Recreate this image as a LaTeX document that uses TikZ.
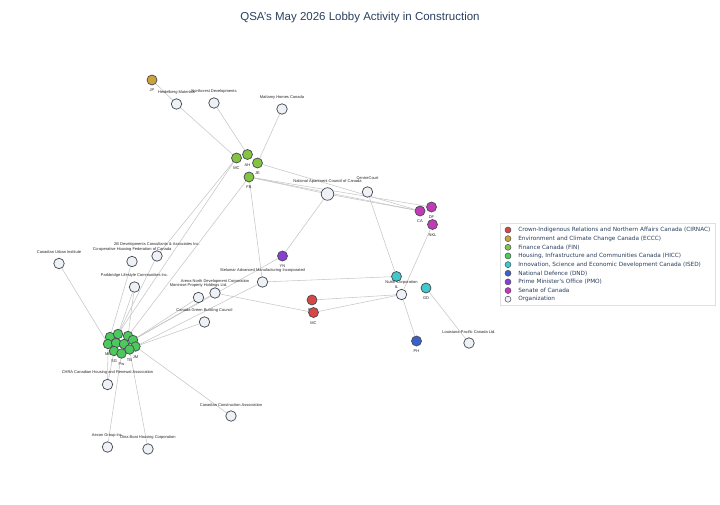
\documentclass[tikz,border=0pt]{standalone}
\usepackage{fontspec}
\setmainfont{Liberation Sans}
\newfontfamily\legendfont{DejaVu Sans}
\usetikzlibrary{backgrounds}
\definecolor{cirnac}{HTML}{D64747}
\definecolor{eccc}{HTML}{CFA23E}
\definecolor{fin}{HTML}{84C441}
\definecolor{hicc}{HTML}{4CC95C}
\definecolor{ised}{HTML}{40C9C9}
\definecolor{dnd}{HTML}{3B5FCB}
\definecolor{pmo}{HTML}{8B3FD0}
\definecolor{senate}{HTML}{C23BB6}
\definecolor{orgfill}{HTML}{EEF2F6}
\definecolor{rim}{HTML}{4A4F57}
\definecolor{edge}{HTML}{C6C6C6}
\definecolor{titleblue}{HTML}{2A3F5F}

\begin{document}
\begin{tikzpicture}[x=1pt,y=-1pt,
  every node/.style={font=\fontsize{4}{4.5}\selectfont,text=black!85},
  person/.style={circle,draw=rim,line width=0.75pt,minimum size=10pt,inner sep=0pt},
  org/.style={person,fill=orgfill,minimum size=10.5pt},
  grp/.style={person,fill=hicc,minimum size=9.5pt},
  link/.style={draw=edge,line width=0.55pt},
  orgname/.style={label={[label distance=0.6pt]above:#1}},
  initials/.style={label={[label distance=0.1pt]below:#1}},
  legmark/.style={circle,draw=rim,line width=0.5pt,minimum size=6pt,inner sep=0pt},
  legtext/.style={font=\legendfont\fontsize{5.75}{6}\selectfont,text=titleblue,anchor=west}]

\useasboundingbox (0,0) rectangle (720,504);

% title
\node[font=\fontsize{11.5}{13}\selectfont,text=titleblue] (title) at (360,18) {QSA's May 2026 Lobby Activity in Construction};

% officials
\node[person,fill=eccc,initials=JP] (jp) at (152,80) {};
\node[person,fill=fin,initials=MC] (mc) at (236.5,158) {};
\node[person,fill=fin,initials=AH] (ah) at (247.5,154.5) {};
\node[person,fill=fin,initials=JE] (je) at (257.5,163) {};
\node[person,fill=fin,initials=FB] (fb) at (249,177) {};
\node[person,fill=senate,initials=CA] (ca) at (420,211) {};
\node[person,fill=senate,initials=DF] (df) at (431.5,207) {};
\node[person,fill=senate,initials=NKL] (nkl) at (432.5,224.5) {};
\node[person,fill=pmo,initials=YN] (yn) at (282.5,256) {};
\node[person,fill=ised,initials=IL] (il) at (396.5,276.5) {};
\node[person,fill=ised,initials=GD] (gd) at (426,288) {};
\node[person,fill=cirnac,initials=PCL] (rc1) at (312,300) {};
\node[person,fill=cirnac,initials=MC] (rc2) at (313.5,312.5) {};
\node[person,fill=dnd,initials=PH] (ph) at (416.5,341) {};

% housing cluster
\node[grp] (h1) at (110,337) {};
\node[grp] (h2) at (118,334) {};
\node[grp] (h3) at (128,336) {};
\node[grp] (h7) at (133,340) {};
\node[grp,initials=MB] (h4) at (108,344) {};
\node[grp] (h5) at (116,343) {};
\node[grp] (h6) at (124,344) {};
\node[grp,initials=JM] (h8) at (135.5,346.5) {};
\node[grp,initials=SG] (h9) at (114,351) {};
\node[grp,initials=Pw] (h10) at (121.5,353.5) {};
\node[grp,initials=TB] (h11) at (129.5,349.5) {};

% organizations
\node[org,orgname=Heidelberg Materials] (heid) at (176.5,104) {};
\node[org,orgname=Northcrest Developments] (north) at (214,103) {};
\node[org,orgname=Mattamy Homes Canada] (matt) at (282,109) {};
\node[org,minimum size=12.5pt,orgname=National Apartment Council of Canada] (nac) at (327.5,194) {};
\node[org,label={[label distance=3pt]above:CentreCourt}] (centre) at (367.5,192) {};
\node[org,orgname=Nuklif Corporation] (nuk) at (401.5,294.5) {};
\node[org,orgname=Louisiana-Pacific Canada Ltd.] (lp) at (469,343) {};
\node[org,orgname=Canadian Urban Institute] (cui) at (59,263.5) {};
\node[org,orgname=2B Developments Consultants \& Associates Inc.] (twob) at (157,256) {};
\node[org,orgname=Co-operative Housing Federation of Canada] (coop) at (132,261.5) {};
\node[org,orgname=Parkbridge Lifestyle Communities Inc.] (park) at (134.5,287) {};
\node[org,orgname=Arena North Development Corporation] (arena) at (215,293) {};
\node[org,orgname=Montrose Property Holdings Ltd.] (mont) at (198.5,297.5) {};
\node[org,orgname=Canada Green Building Council] (cgbc) at (204.5,322) {};
\node[org,orgname=Stelumar Advanced Manufacturing Incorporated] (stel) at (262.5,282) {};
\node[org,orgname=CHRA Canadian Housing and Renewal Association] (chra) at (107.5,384.5) {};
\node[org,orgname=Canadian Construction Association] (cca) at (231,416) {};
\node[org,orgname=Aecon Group Inc.] (aecon) at (107.5,447) {};
\node[org,orgname=Dina Boat Housing Corporation] (dina) at (148,449) {};

% connectors
\begin{scope}[on background layer]
  \draw[link] (jp) -- (heid);
  \draw[link] (heid) -- (mc);
  \draw[link] (north) -- (ah);
  \draw[link] (matt) -- (je);
  \draw[link] (je) -- (ca);
  \draw[link] (fb) -- (nac);
  \draw[link] (fb) -- (ca);
  \draw[link] (fb) -- (df);
  \draw[link] (nac) -- (ca);
  \draw[link] (nac) -- (yn);
  \draw[link] (fb) -- (stel);
  \draw[link] (fb) -- (h3);
  \draw[link] (mc) -- (h2);
  \draw[link] (mc) -- (twob);
  \draw[link] (centre) -- (il);
  \draw[link] (nkl) -- (nuk);
  \draw[link] (stel) -- (il);
  \draw[link] (rc1) -- (nuk);
  \draw[link] (rc2) -- (nuk);
  \draw[link] (arena) -- (rc2);
  \draw[link] (nuk) -- (ph);
  \draw[link] (gd) -- (lp);
  \draw[link] (yn) -- (h7);
  \draw[link] (h4) -- (cui);
  \draw[link] (h1) -- (coop);
  \draw[link] (h2) -- (twob);
  \draw[link] (h2) -- (park);
  \draw[link] (h3) -- (park);
  \draw[link] (h7) -- (mont);
  \draw[link] (h7) -- (arena);
  \draw[link] (h8) -- (cgbc);
  \draw[link] (h8) -- (stel);
  \draw[link] (h4) -- (chra);
  \draw[link] (h9) -- (chra);
  \draw[link] (h10) -- (aecon);
  \draw[link] (h11) -- (dina);
  \draw[link] (h8) -- (cca);
\end{scope}

% legend
\draw[draw=black!12,fill=white,line width=0.5pt] (500,223) rectangle (715,305);
\foreach \col/\txt [count=\i] in {cirnac/Crown-Indigenous Relations and Northern Affairs Canada (CIRNAC),
    eccc/Environment and Climate Change Canada (ECCC),
    fin/Finance Canada (FIN),
    hicc/{Housing, Infrastructure and Communities Canada (HICC)},
    ised/{Innovation, Science and Economic Development Canada (ISED)},
    dnd/National Defence (DND),
    pmo/Prime Minister's Office (PMO),
    senate/Senate of Canada,
    orgfill/Organization}{
  \node[legmark,fill=\col] (lm\i) at (508,{230+8.65*(\i-1)}) {};
  \node[legtext] (lt\i) at ([xshift=3.5pt]lm\i.east) {\txt};
}
\end{tikzpicture}
\end{document}
